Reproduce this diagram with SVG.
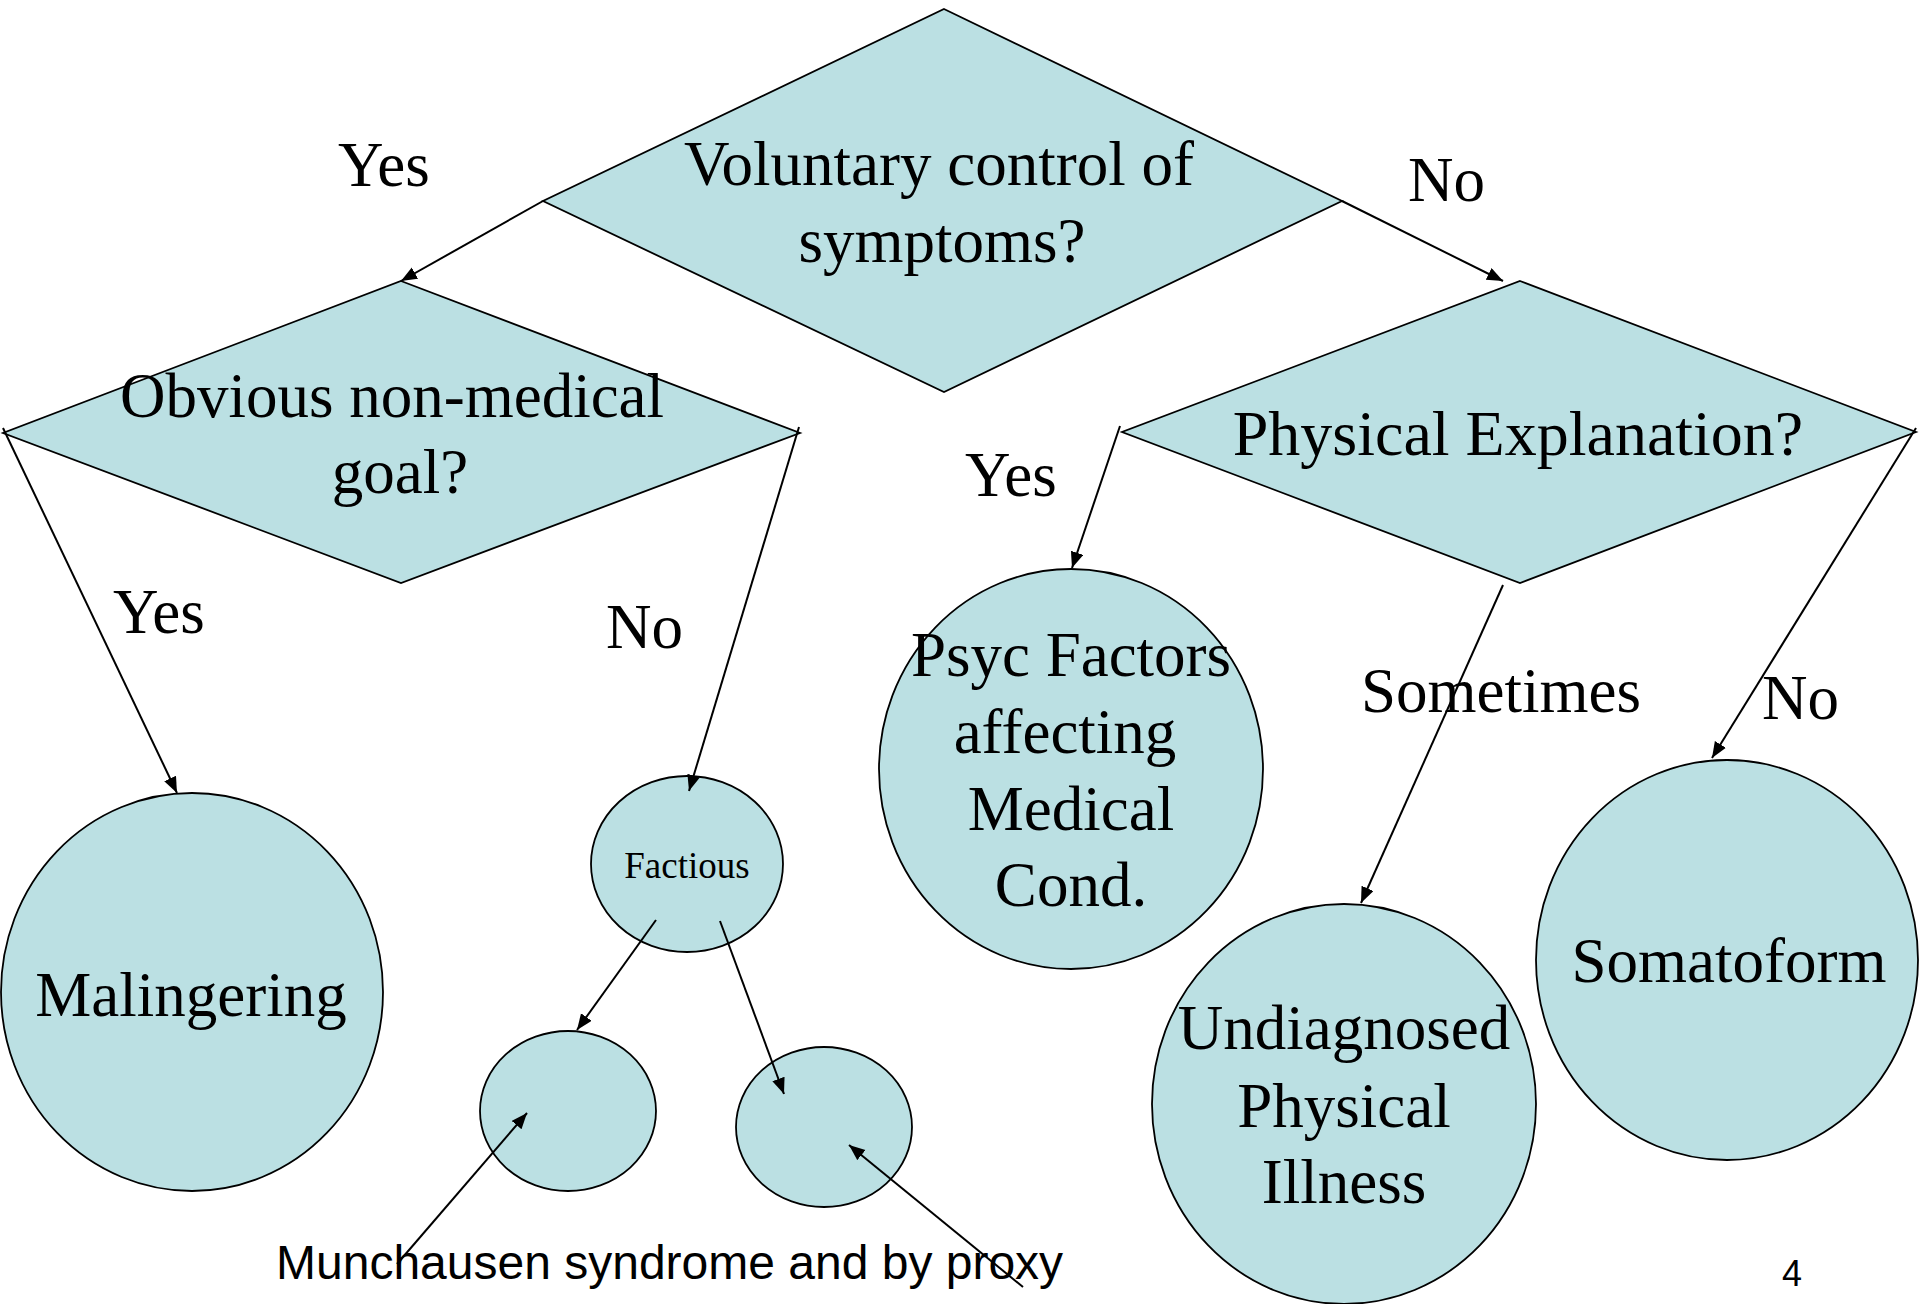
<svg xmlns="http://www.w3.org/2000/svg" width="1920" height="1304" viewBox="0 0 1920 1304">
<style>
.shape{fill:#BBE0E3;stroke:#000;stroke-width:1.8}
.t{font-family:"Liberation Serif","Times New Roman",serif;font-size:63px;fill:#000;text-anchor:middle}
.lbl{font-family:"Liberation Serif","Times New Roman",serif;font-size:63px;fill:#000}
.sans{font-family:"Liberation Sans",Arial,sans-serif;fill:#000}
.c{fill:none;stroke:#000;stroke-width:2;marker-end:url(#ah)}
</style>
<defs>
<marker id="ah" markerUnits="userSpaceOnUse" markerWidth="18" markerHeight="14" refX="16" refY="6.5" orient="auto" viewBox="0 0 18 14">
<path d="M0,0 L16,6.5 L0,13 z" fill="#000"/>
</marker>
</defs>
<rect width="1920" height="1304" fill="#fff"/>

<g id="node-voluntary">
<polygon class="shape" points="944,9 1342,201 944,392 543,201"/>
<text class="t" x="939" y="185">Voluntary control of</text>
<text class="t" x="942" y="262">symptoms?</text>
</g>
<g id="node-obvious">
<polygon class="shape" points="401,281 800,433 401,583 3,433"/>
<text class="t" x="392" y="417">Obvious non-medical</text>
<text class="t" x="400" y="493">goal?</text>
</g>
<g id="node-physical">
<polygon class="shape" points="1520,281 1916,432 1520,583 1122,432"/>
<text class="t" x="1518" y="455" style="font-size:64px">Physical Explanation?</text>
</g>
<g id="node-malingering">
<ellipse class="shape" cx="192" cy="992" rx="191" ry="199"/>
<text class="t" x="191" y="1016">Malingering</text>
</g>
<g id="node-factious">
<ellipse class="shape" cx="687" cy="864" rx="96" ry="88"/>
<text class="t" x="687" y="878" style="font-size:37px">Factious</text>
</g>
<g id="node-munchausen">
<ellipse class="shape" cx="568" cy="1111" rx="88" ry="80"/>
</g>
<g id="node-proxy">
<ellipse class="shape" cx="824" cy="1127" rx="88" ry="80"/>
</g>
<g id="node-psyc">
<ellipse class="shape" cx="1071" cy="769" rx="192" ry="200"/>
<text class="t" x="1071" y="676">Psyc Factors</text>
<text class="t" x="1065" y="753">affecting</text>
<text class="t" x="1071" y="830">Medical</text>
<text class="t" x="1071" y="906">Cond.</text>
</g>
<g id="node-undiagnosed">
<ellipse class="shape" cx="1344" cy="1104" rx="192" ry="200"/>
<text class="t" x="1344" y="1049">Undiagnosed</text>
<text class="t" x="1344" y="1127">Physical</text>
<text class="t" x="1344" y="1203">Illness</text>
</g>
<g id="node-somatoform">
<ellipse class="shape" cx="1727" cy="960" rx="191" ry="200"/>
<text class="t" x="1729" y="982">Somatoform</text>
</g>

<g id="labels">
<text class="lbl" x="338" y="186">Yes</text>
<text class="lbl" x="1408" y="201">No</text>
<text class="lbl" x="113" y="633">Yes</text>
<text class="lbl" x="606" y="648">No</text>
<text class="lbl" x="965" y="496">Yes</text>
<text class="lbl" x="1361" y="712">Sometimes</text>
<text class="lbl" x="1762" y="719">No</text>
<text class="sans" x="276" y="1279" style="font-size:48px">Munchausen syndrome and by proxy</text>
<text class="sans" x="1782" y="1286" style="font-size:36px">4</text>
</g>

<g id="connectors">
<line class="c" x1="543" y1="201" x2="401" y2="281"/>
<line class="c" x1="1342" y1="201" x2="1503" y2="281"/>
<line class="c" x1="3" y1="428" x2="177" y2="793"/>
<line class="c" x1="799" y1="427" x2="689" y2="791"/>
<line class="c" x1="1120" y1="426" x2="1072" y2="568"/>
<line class="c" x1="1503" y1="585" x2="1361" y2="903"/>
<line class="c" x1="1916" y1="428" x2="1712" y2="758"/>
<line class="c" x1="656" y1="920" x2="577" y2="1030"/>
<line class="c" x1="720" y1="921" x2="784" y2="1094"/>
<line class="c" x1="397" y1="1264" x2="527" y2="1113"/>
<line class="c" x1="1023" y1="1287" x2="849" y2="1145"/>
</g>
</svg>
